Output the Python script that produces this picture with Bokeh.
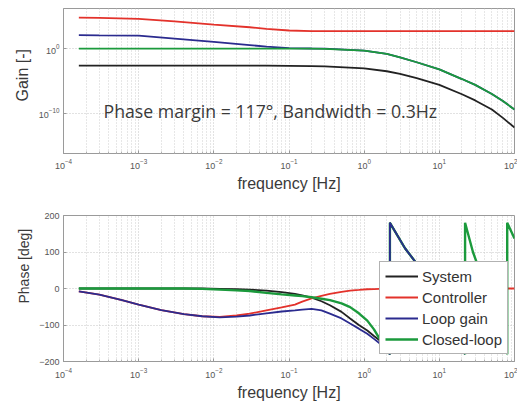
from bokeh.plotting import figure
from bokeh.models import FixedTicker, LogTickFormatter, Legend, LegendItem, Label, Range1d, Title
from bokeh.layouts import column
from bokeh.embed import file_html
from bokeh.resources import INLINE

# ---------------- data ----------------
freq_gain = [1.6e-4, 3e-4, 1e-3, 3e-3, 1e-2, 3e-2, 0.05, 0.1, 0.2, 0.3, 1, 2, 3, 5, 10, 20, 30, 50, 70, 100]
gain_system = [2.3e-3, 2.3e-3, 2.3e-3, 2.3e-3, 2.3e-3, 2.3e-3, 2.3e-3, 2.2e-3, 2.0e-3, 1.8e-3,
               8.7e-4, 3.2e-4, 1.26e-4, 2.8e-5, 2.5e-6, 8.9e-8, 1.0e-8, 4.0e-10, 2.0e-11, 6.3e-13]
gain_controller = [6.3e4, 5.6e4, 4.0e4, 1.6e4, 5.0e3, 2.0e3, 1.1e3, 6.3e2, 5.2e2, 5.0e2,
                   5.0e2, 5.0e2, 5.0e2, 5.0e2, 5.0e2, 5.0e2, 5.0e2, 5.0e2, 5.0e2, 5.0e2]
gain_loop = [1.2e2, 1.1e2, 1.0e2, 35, 11, 3.5, 2.0, 1.2, 1.05, 1.0,
             0.5, 0.16, 0.045, 7.9e-3, 6.3e-4, 2.0e-5, 2.5e-6, 1.0e-7, 7.9e-9, 4.0e-10]
gain_closed = [1, 1, 1, 1, 1, 1, 1, 1, 0.97, 0.9,
               0.5, 0.16, 0.045, 7.9e-3, 6.3e-4, 2.0e-5, 2.5e-6, 1.0e-7, 7.9e-9, 4.0e-10]

freq_ph_low = [1.6e-4, 3e-4, 6e-4, 1e-3, 2e-3, 4e-3, 7e-3, 1.2e-2, 2e-2, 3e-2, 5e-2, 8e-2,
               0.12, 0.15, 0.2, 0.27, 0.35, 0.5, 0.65, 0.85, 1.1, 1.35, 1.6, 2.2]
freq_ph_system = freq_ph_low + [2.2, 3.5, 5.6, 12, 22]
phase_system = [0, 0, 0, 0, 0, 0, 0, -1, -2, -3, -6, -10,
                -15, -19, -25, -35, -46, -64, -82, -100, -115, -130, -142, -180,
                180, 110, 55, -60, -180]
freq_ph_controller = freq_ph_low + [10, 100]
phase_controller = [-8, -17, -32, -44, -59, -70, -76, -78, -74, -69, -60, -52,
                    -44, -36, -27, -20, -15, -9, -6, -4, -2, -1.5, -1, -1,
                    0, 0]
freq_ph_loop = freq_ph_low + [2.2, 3.5, 5.6, 12, 22]
phase_loop = [-8, -17, -32, -44, -59, -70, -76, -79, -77, -74, -68, -63,
              -60, -58, -56, -60, -69, -82, -96, -110, -124, -138, -150, -180,
              180, 110, 55, -60, -180]
freq_ph_closed = freq_ph_low + [2.2, 3.5, 5.6, 12, 22, 22, 28, 35, 60, 80, 80, 100]
phase_closed = [0, 0, 0, 0, 0, 0, -1, -3, -5, -7, -12, -16,
                -19, -21, -24, -28, -32, -41, -51, -68, -88, -112, -137, -180,
                180, 110, 55, -60, -180, 180, 100, 44, -100, -180, 180, 137]

series_names = ["System", "Controller", "Loop gain", "Closed-loop"]
x_ticks = [1e-4, 1e-3, 1e-2, 1e-1, 1e0, 1e1, 1e2]
gain_ticks = [1e-10, 1e0]
phase_ticks = [-200, -100, 0, 100, 200]
annotation = "Phase margin = 117\u00b0, Bandwidth = 0.3Hz"
xlabel = "frequency [Hz]"
gain_label = "Gain [-]"
phase_label = "Phase [deg]"

# ---------------- styling ----------------
COL = {"System": "#222222", "Controller": "#e3322b", "Loop gain": "#2b2b8f", "Closed-loop": "#1b9a3c"}
LW = 1.8
FONT = "Liberation Sans"
minor_x = [m * d for d in x_ticks[:-1] for m in range(2, 10)]


def style(p):
    p.outline_line_color = "#9a9a9a"
    p.background_fill_color = "white"
    p.border_fill_color = "white"
    for ax in (p.xaxis[0], p.yaxis[0]):
        ax.axis_line_color = "#9a9a9a"
        ax.major_tick_in = 3
        ax.major_tick_out = 0
        ax.minor_tick_in = 2
        ax.minor_tick_out = 0
        ax.major_tick_line_color = "#9a9a9a"
        ax.minor_tick_line_color = "#b0b0b0"
        ax.major_label_text_font = FONT
        ax.major_label_text_font_size = "9px"
        ax.major_label_text_color = "#555555"
        ax.axis_label_text_font = FONT
        ax.axis_label_text_font_style = "normal"
        ax.axis_label_text_color = "#3a3a3a"
    p.xaxis.axis_label = xlabel
    p.xaxis.axis_label_text_font_size = "16px"
    p.xaxis.major_label_standoff = 5
    p.xaxis.axis_label_standoff = 3
    p.yaxis.major_label_standoff = 4
    p.xaxis.ticker = FixedTicker(ticks=x_ticks, minor_ticks=minor_x)
    p.xaxis.formatter = LogTickFormatter()
    for g in (p.xgrid[0], p.ygrid[0]):
        g.grid_line_color = "#c4c4c4"
        g.grid_line_dash = "1 2"
        g.grid_line_width = 1
    p.xgrid.minor_grid_line_color = "#cfcfcf"
    p.xgrid.minor_grid_line_dash = "1 2"


def ylabel(p, text, size, from_bottom):
    # rotated y-axis title; like the reference it sits a little above the frame centre
    p.add_layout(Title(text=text, align="left", offset=from_bottom,
                       text_font=FONT, text_font_size=size, text_font_style="normal",
                       text_color="#3a3a3a"), "left")


# Bokeh's page template sets the body margin to 0, so the 8px page margin
# of the reference is reproduced through the figure borders.

# ---------------- gain plot ----------------
p1 = figure(width=517, height=196, x_axis_type="log", y_axis_type="log",
            x_range=Range1d(1e-4, 1e2), y_range=Range1d(10 ** -16.2, 10 ** 6.2),
            output_backend="svg", toolbar_location=None,
            min_border_left=63, min_border_right=3, min_border_top=8, min_border_bottom=43)
style(p1)
p1.yaxis.ticker = FixedTicker(ticks=gain_ticks)
p1.yaxis.formatter = LogTickFormatter()
ylabel(p1, gain_label, "16px", 52)

p1.line(freq_gain, gain_system, color=COL["System"], line_width=LW)
p1.line(freq_gain, gain_controller, color=COL["Controller"], line_width=LW)
p1.line(freq_gain, gain_loop, color=COL["Loop gain"], line_width=LW)
p1.line(freq_gain, gain_closed, color=COL["Closed-loop"], line_width=LW)

p1.add_layout(Label(x=40, y=43, x_units="screen", y_units="screen", text=annotation,
                    text_font="Open Sans", text_font_size="17.7px", text_color="#3a3a3a",
                    text_baseline="middle"))

# ---------------- phase plot ----------------
p2 = figure(width=517, height=207, x_axis_type="log",
            x_range=Range1d(1e-4, 1e2), y_range=Range1d(-200, 200),
            output_backend="svg", toolbar_location=None,
            min_border_left=63, min_border_right=3, min_border_top=19, min_border_bottom=42)
style(p2)
p2.yaxis.ticker = FixedTicker(ticks=phase_ticks)
p2.xaxis.major_label_standoff = 6
p2.xaxis.axis_label_standoff = 3
ylabel(p2, phase_label, "14px", 58)

r_sys = p2.line(freq_ph_system, phase_system, color=COL["System"], line_width=LW)
r_con = p2.line(freq_ph_controller, phase_controller, color=COL["Controller"], line_width=LW)
r_cl = p2.line(freq_ph_closed, phase_closed, color=COL["Closed-loop"], line_width=LW + 0.6)
r_lp = p2.line(freq_ph_loop, phase_loop, color=COL["Loop gain"], line_width=LW)

legend = Legend(items=[LegendItem(label=series_names[0], renderers=[r_sys]),
                       LegendItem(label=series_names[1], renderers=[r_con]),
                       LegendItem(label=series_names[2], renderers=[r_lp]),
                       LegendItem(label=series_names[3], renderers=[r_cl])],
                location=(316, 7), orientation="vertical",
                label_text_font=FONT, label_text_font_size="15px", label_text_color="#333333",
                glyph_width=33, glyph_height=18, label_height=18, label_standoff=4,
                spacing=3, padding=5, margin=0,
                border_line_color="#666666", border_line_width=1,
                background_fill_color="white", background_fill_alpha=1.0)
p2.add_layout(legend)

layout = column(p1, p2, spacing=0)
open("out.html", "w").write(file_html(layout, INLINE))
